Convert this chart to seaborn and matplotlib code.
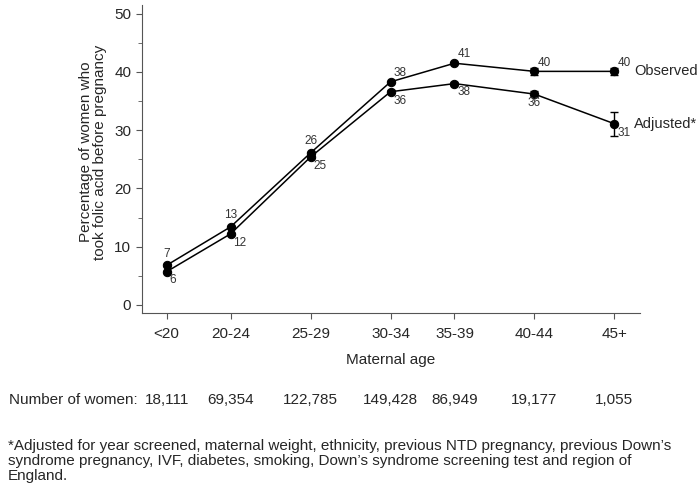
import numpy as np
import pandas as pd
import matplotlib
matplotlib.use("Agg")
import matplotlib.pyplot as plt
import matplotlib.transforms as mtransforms
from matplotlib.ticker import MultipleLocator
import seaborn as sns

# Data
age_groups = ["<20", "20-24", "25-29", "30-34", "35-39", "40-44", "45+"]
age_pos = [18, 22, 27, 32, 36, 41, 46]
observed = [6.8, 13.4, 26.1, 38.3, 41.5, 40.1, 40.1]
observed_err = [0.2, 0.2, 0.2, 0.2, 0.2, 0.6, 0.6]
observed_lbl = ["7", "13", "26", "38", "41", "40", "40"]
adjusted = [5.7, 12.2, 25.4, 36.6, 38.0, 36.2, 31.1]
adjusted_err = [0.2, 0.2, 0.2, 0.3, 0.3, 0.5, 2.1]
adjusted_lbl = ["6", "12", "25", "36", "38", "36", "31"]
n_women = ["18,111", "69,354", "122,785", "149,428", "86,949", "19,177", "1,055"]

df = pd.DataFrame({"age": age_pos * 2,
                   "pct": observed + adjusted,
                   "series": ["Observed"] * 7 + ["Adjusted*"] * 7})

sns.set_style("ticks")
plt.rcParams["font.family"] = ["Liberation Sans", "DejaVu Sans"]

fig = plt.figure(figsize=(6.99, 4.99), dpi=100)
ax = fig.add_axes([0.2027, 0.3727, 0.7129, 0.6173])

sns.lineplot(data=df, x="age", y="pct", hue="series", palette=["black", "black"],
             marker="o", markersize=6, markeredgecolor="black", linewidth=1.1,
             legend=False, ax=ax)
ax.errorbar(age_pos, observed, yerr=observed_err, fmt="none", ecolor="black",
            elinewidth=1, capsize=3)
ax.errorbar(age_pos, adjusted, yerr=adjusted_err, fmt="none", ecolor="black",
            elinewidth=1, capsize=3)

# point labels
for i, (x, y) in enumerate(zip(age_pos, observed)):
    if i < 3:
        ax.annotate(observed_lbl[i], (x, y), xytext=(0, 4), textcoords="offset points",
                    ha="center", va="bottom", fontsize=8.5, color="#333333")
    else:
        ax.annotate(observed_lbl[i], (x, y), xytext=(2, 2), textcoords="offset points",
                    ha="left", va="bottom", fontsize=8.5, color="#333333")
for i, (x, y) in enumerate(zip(age_pos, adjusted)):
    dx = 0 if i == 5 else 2
    ax.annotate(adjusted_lbl[i], (x, y), xytext=(dx, -2), textcoords="offset points",
                ha="left" if dx else "center", va="top", fontsize=8.5, color="#333333")

ax.annotate("Observed", (age_pos[-1], observed[-1]), xytext=(14, 0), textcoords="offset points",
            ha="left", va="center", fontsize=10.5, annotation_clip=False)
ax.annotate("Adjusted*", (age_pos[-1], adjusted[-1]), xytext=(14, 0), textcoords="offset points",
            ha="left", va="center", fontsize=10.5, annotation_clip=False)

ax.set_xlim(16.44, 47.6)
ax.set_ylim(-1.4, 51.5)
ax.set_xticks(age_pos)
ax.set_xticklabels(age_groups, fontsize=11)
ax.set_yticks(range(0, 51, 10))
ax.yaxis.set_minor_locator(MultipleLocator(5))
ax.tick_params(axis="y", labelsize=11, length=4, color="#555555")
ax.tick_params(axis="y", which="minor", length=3, color="#555555")
ax.tick_params(axis="x", length=4, color="#555555", pad=6)
ax.set_xlabel("")
ax.set_ylabel("")
for s in ["left", "bottom"]:
    ax.spines[s].set_color("#555555")
sns.despine(ax=ax)

fig.text(93 / 699, 1 - 152 / 499, "Percentage of women who\ntook folic acid before pregnancy",
         rotation=90, ha="center", va="center", fontsize=11, multialignment="center",
         linespacing=1.05)
fig.text(391 / 699, 1 - 360 / 499, "Maternal age", ha="center", va="center", fontsize=11)

# number of women row
trans = mtransforms.blended_transform_factory(ax.transData, fig.transFigure)
fig.text(138 / 699, 1 - 400 / 499, "Number of women:", ha="right", va="center", fontsize=11)
for x, n in zip(age_pos, n_women):
    ax.text(x, 1 - 400 / 499, n, transform=trans, ha="center", va="center", fontsize=11)

fig.text(8 / 699, 1 - 439 / 499,
         "*Adjusted for year screened, maternal weight, ethnicity, previous NTD pregnancy, previous Down\u2019s\n"
         "syndrome pregnancy, IVF, diabetes, smoking, Down\u2019s syndrome screening test and region of\n"
         "England.", ha="left", va="top", fontsize=11, linespacing=1.1)

fig.savefig("out.png", dpi=100)
